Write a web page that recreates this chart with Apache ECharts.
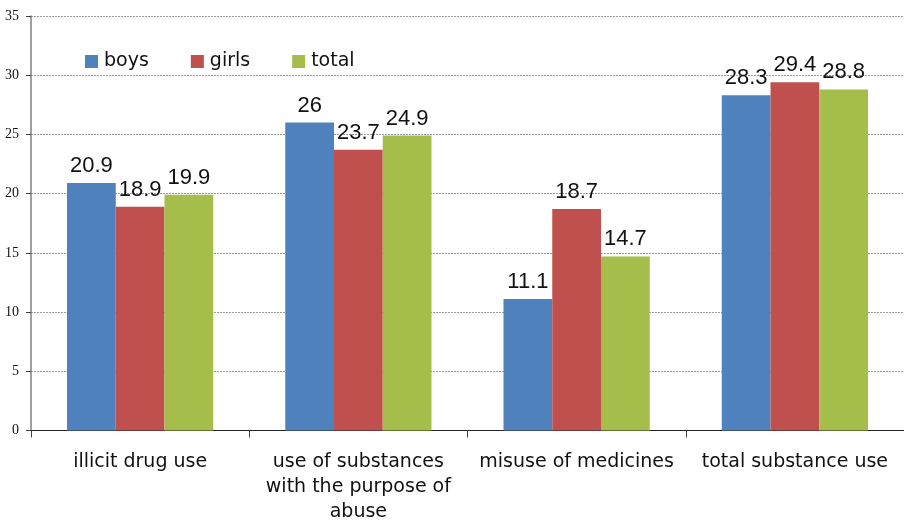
<!DOCTYPE html>
<html>
<head>
<meta charset="utf-8">
<script src="https://cdn.jsdelivr.net/npm/echarts@6/dist/echarts.min.js"></script>
<style>
  html, body { margin: 0; padding: 0; background: #ffffff; }
  #chart { width: 904px; height: 522px; }
</style>
</head>
<body>
<div id="chart"></div>
<script>
// Substance use by gender, per category
const categories = [
  'illicit drug use',
  'use of substances\nwith the purpose of\nabuse',
  'misuse of medicines',
  'total substance use'
];
const seriesNames = ['boys', 'girls', 'total'];
const boys = [20.9, 26, 11.1, 28.3];
const girls = [18.9, 23.7, 18.7, 29.4];
const total = [19.9, 24.9, 14.7, 28.8];
const yTicks = [0, 5, 10, 15, 20, 25, 30, 35];

const colors = ['#4F81BD', '#C0504D', '#A4BD4B'];
const valueSets = [boys, girls, total];

const chart = echarts.init(document.getElementById('chart'), null, { renderer: 'canvas' });

const series = seriesNames.map((name, i) => ({
  name: name,
  type: 'bar',
  data: valueSets[i],
  barGap: '0%',
  barCategoryGap: '33%',
  itemStyle: { color: colors[i] },
  label: {
    show: true,
    position: 'top',
    distance: 6,
    color: '#111111',
    fontFamily: '"Liberation Sans", Arial, sans-serif',
    fontSize: 22
  },
  emphasis: { disabled: true }
}));

chart.setOption({
  animation: false,
  backgroundColor: '#ffffff',
  grid: {
    left: 31, right: 0, top: 16, bottom: 91.5,
    containLabel: false,
    outerBoundsMode: 'none'
  },
  legend: {
    data: seriesNames,
    left: 80,
    top: 47,
    itemWidth: 13,
    itemHeight: 13,
    itemGap: 42,
    icon: 'rect',
    textStyle: {
      fontFamily: '"DejaVu Sans", Verdana, sans-serif',
      fontSize: 19,
      color: '#111111',
      padding: [0, 0, 0, 1]
    }
  },
  xAxis: {
    type: 'category',
    data: categories,
    axisLine: { lineStyle: { color: '#222222', width: 1 } },
    axisTick: { show: true, length: 7, lineStyle: { color: '#444444' } },
    axisLabel: {
      margin: 19,
      interval: 0,
      fontFamily: '"DejaVu Sans", Verdana, sans-serif',
      fontSize: 19,
      lineHeight: 25,
      color: '#111111'
    }
  },
  yAxis: {
    type: 'value',
    min: yTicks[0],
    max: yTicks[yTicks.length - 1],
    interval: 5,
    axisLine: { show: true, lineStyle: { color: '#7f7f7f', width: 1.5 } },
    axisTick: { show: true, length: 5, lineStyle: { color: '#444444' } },
    axisLabel: {
      margin: 12,
      fontFamily: '"Liberation Serif", "Times New Roman", serif',
      fontSize: 14,
      color: '#111111'
    },
    splitLine: {
      show: true,
      lineStyle: { color: '#9a9a9a', type: [2, 1], width: 1 }
    }
  },
  series: series
});
</script>
</body>
</html>
